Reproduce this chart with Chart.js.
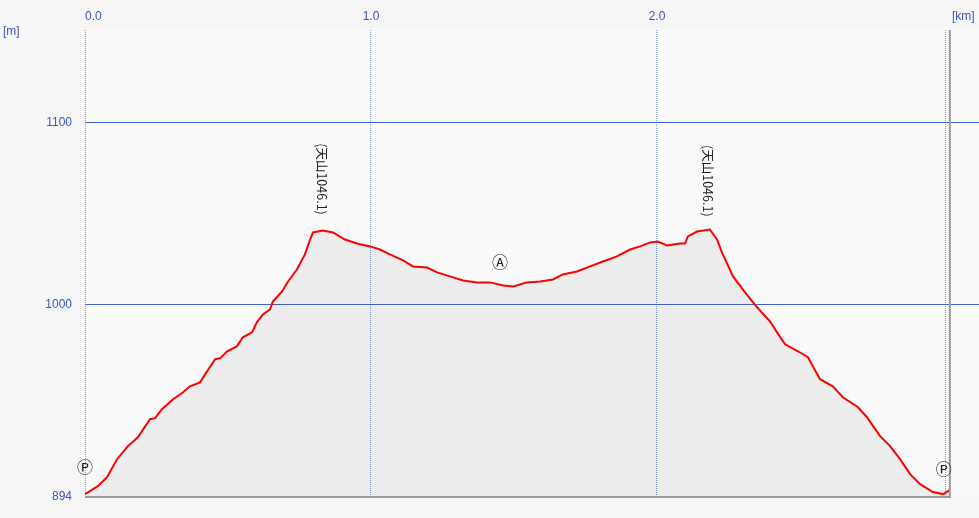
<!DOCTYPE html>
<html>
<head>
<meta charset="utf-8">
<script src="https://cdn.jsdelivr.net/npm/chart.js@4.4.0/dist/chart.umd.min.js"></script>
<style>
body { margin: 0; background: #f6f6f6; }
#wrap { width: 979px; height: 518px; position: relative; }
</style>
</head>
<body>
<div id="wrap"><canvas id="profile"></canvas></div>
<script>
// distance [km] and elevation [m]
var km = [0.000, 0.045, 0.077, 0.112, 0.150, 0.185, 0.227, 0.245, 0.269, 0.308,
    0.343, 0.367, 0.402, 0.427, 0.455, 0.472, 0.497, 0.531, 0.552, 0.584,
    0.601, 0.622, 0.647, 0.657, 0.689, 0.710, 0.741, 0.769, 0.787, 0.797,
    0.832, 0.867, 0.909, 0.951, 0.997, 1.031, 1.066, 1.112, 1.147, 1.196,
    1.231, 1.276, 1.322, 1.371, 1.416, 1.462, 1.497, 1.545, 1.591, 1.636,
    1.671, 1.720, 1.766, 1.811, 1.860, 1.906, 1.941, 1.976, 2.003, 2.035,
    2.080, 2.098, 2.108, 2.140, 2.185, 2.210, 2.227, 2.266, 2.308, 2.350,
    2.395, 2.420, 2.448, 2.493, 2.528, 2.570, 2.615, 2.650, 2.703, 2.734,
    2.780, 2.815, 2.850, 2.885, 2.920, 2.965, 3.000, 3.024];
var elev = [895.6, 900.0, 904.9, 914.8, 922.0, 926.9, 936.8, 937.4, 942.3, 947.8,
    951.6, 954.9, 957.1, 963.2, 969.8, 970.3, 974.2, 976.9, 981.9, 984.6,
    990.1, 994.5, 997.3, 1001.6, 1007.1, 1012.6, 1019.2, 1027.5, 1035.7, 1039.6,
    1040.7, 1039.6, 1035.7, 1033.5, 1031.9, 1030.2, 1027.5, 1024.2, 1020.9, 1020.3,
    1017.6, 1015.4, 1013.2, 1012.1, 1012.1, 1010.4, 1009.9, 1012.1, 1012.6, 1013.7,
    1016.5, 1018.1, 1020.9, 1023.6, 1026.4, 1030.2, 1031.9, 1034.1, 1034.6, 1032.4,
    1033.5, 1033.5, 1037.4, 1040.1, 1041.2, 1035.7, 1028.6, 1015.4, 1006.6, 998.4,
    990.7, 984.6, 978.0, 974.2, 970.9, 958.8, 954.9, 948.9, 943.4, 937.9,
    927.5, 922.0, 914.8, 906.6, 901.1, 896.7, 895.6, 897.8];

var xTicks = [0, 1, 2, 3.01];
var xTickLabels = ['0.0', '1.0', '2.0', ''];
var yTicks = [894, 1000, 1100];
var yTickLabels = ['894', '1000', '1100'];

// point marks on the route
var markText = ['Ⓟ', 'Ⓐ', 'Ⓟ'];
var markKm = [0.0, 1.451, 3.003];
var markM = [910.4, 1023.6, 909.3];

// summit names (written vertically)
var peakText = ['(天山1046.1)', '(天山1046.1)'];
var peakKm = [0.829, 2.178];
var peakM = [1069, 1068];

var blue = '#3b55c0';

var points = km.map(function (v, i) { return { x: v, y: elev[i] }; });

var deco = {
    id: 'deco',
    beforeDraw: function (chart) {
        var c = chart.ctx, a = chart.chartArea;
        c.save();
        c.fillStyle = '#fafafa';
        c.fillRect(a.left, a.top, a.right - a.left, a.bottom - a.top);
        c.restore();
    },
    afterDatasetsDraw: function (chart) {
        var c = chart.ctx, a = chart.chartArea;
        var x = chart.scales.x, y = chart.scales.y;
        var xEnd = x.getPixelForValue(km[km.length - 1]);
        var yBase = y.getPixelForValue(yTicks[0]);
        c.save();
        c.strokeStyle = '#9a9a9a';
        c.lineWidth = 2;
        c.beginPath();
        c.moveTo(x.getPixelForValue(0), yBase);
        c.lineTo(xEnd, yBase);
        c.lineTo(xEnd, a.top);
        c.stroke();

        c.fillStyle = blue;
        c.font = '12px "Liberation Sans"';
        c.textBaseline = 'middle';
        c.textAlign = 'left';
        c.fillText('[m]', 3, 32);
        c.fillText('[km]', 952, 17);

        c.fillStyle = '#222';
        c.textAlign = 'center';
        c.font = '16px "Noto Sans CJK JP"';
        for (var i = 0; i < markText.length; i++) {
            c.fillText(markText[i], x.getPixelForValue(markKm[i]), y.getPixelForValue(markM[i]));
        }
        c.font = '12.5px "Noto Sans CJK JP"';
        for (var j = 0; j < peakText.length; j++) {
            c.save();
            c.translate(x.getPixelForValue(peakKm[j]), y.getPixelForValue(peakM[j]));
            c.rotate(Math.PI / 2);
            c.fillText(peakText[j], 0, 0);
            c.restore();
        }
        c.restore();
    }
};

var ctx = document.getElementById('profile');
var profile = new Chart(ctx, {
    type: 'line',
    data: {
        datasets: [{
            data: points,
            borderColor: '#ff0000',
            borderWidth: 2,
            backgroundColor: 'rgba(0,0,0,0.05)',
            fill: 'start',
            pointRadius: 0,
            tension: 0
        }]
    },
    options: {
        responsive: true,
        maintainAspectRatio: false,
        animation: false,
        layout: { padding: { left: 0, right: 0, top: 0, bottom: 21 } },
        plugins: { legend: { display: false }, tooltip: { enabled: false } },
        scales: {
            x: {
                type: 'linear',
                position: 'top',
                min: 0,
                max: 3.126,
                afterBuildTicks: function (axis) {
                    axis.ticks = xTicks.map(function (v) { return { value: v }; });
                },
                afterFit: function (axis) { axis.height = 30; },
                ticks: {
                    color: blue,
                    font: { family: 'Liberation Sans', size: 12 },
                    padding: 6,
                    maxRotation: 0,
                    autoSkip: false,
                    callback: function (v, i) {
                        return i === 0 ? '     ' + xTickLabels[i] : xTickLabels[i];
                    }
                },
                grid: { color: '#8e9fd6', lineWidth: 1, drawTicks: false },
                border: { display: false, dash: [1, 1] }
            },
            y: {
                min: 894,
                max: 1151,
                afterBuildTicks: function (axis) {
                    axis.ticks = yTicks.map(function (v) { return { value: v }; });
                },
                afterFit: function (axis) { axis.width = 85; },
                ticks: {
                    color: blue,
                    font: { family: 'Liberation Sans', size: 12 },
                    padding: 13,
                    autoSkip: false,
                    callback: function (v, i) { return yTickLabels[i]; }
                },
                grid: {
                    drawTicks: false,
                    lineWidth: 1,
                    color: function (c) {
                        return c.tick && c.tick.value === yTicks[0] ? 'rgba(0,0,0,0)' : '#3f63d0';
                    }
                },
                border: { display: false }
            }
        }
    },
    plugins: [deco]
});
</script>
</body>
</html>
